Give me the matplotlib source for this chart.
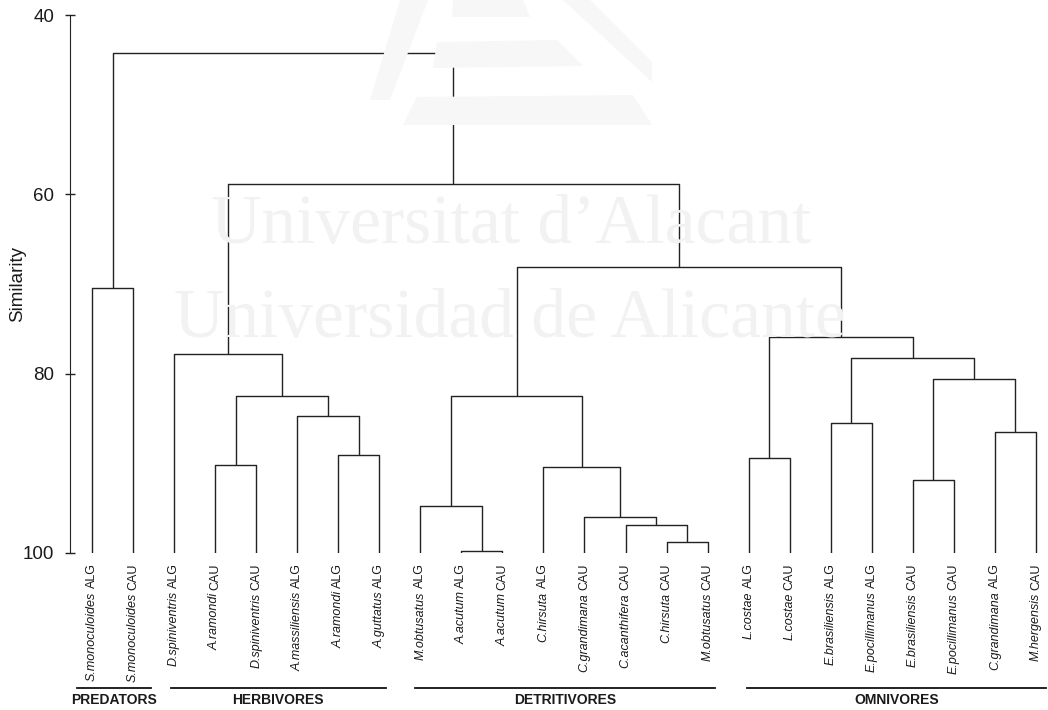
import matplotlib
matplotlib.use("Agg")
from matplotlib import pyplot as plt
from matplotlib import transforms
from matplotlib.patches import Polygon

plt.rcParams["font.family"] = ["Liberation Sans", "DejaVu Sans"]

# leaves, left to right
species = [
    "S.monoculoides", "S.monoculoides", "D.spiniventris", "A.ramondi",
    "D.spiniventris", "A.massiliensis", "A.ramondi", "A.guttatus",
    "M.obtusatus", "A.acutum", "A.acutum", "C.hirsuta",
    "C.grandimana", "C.acanthifera", "C.hirsuta", "M.obtusatus",
    "L.costae", "L.costae", "E.brasiliensis", "E.pocillimanus",
    "E.brasiliensis", "E.pocillimanus", "C.grandimana", "M.hergensis",
]
sites = [
    "ALG", "CAU", "ALG", "CAU", "CAU", "ALG", "ALG", "ALG",
    "ALG", "ALG", "CAU", "ALG", "CAU", "CAU", "CAU", "CAU",
    "ALG", "CAU", "ALG", "ALG", "CAU", "CAU", "ALG", "CAU",
]

# merges: node ids 0-23 are leaves, merge k gets id 24 + k
merge_left = [9, 14, 13, 12, 8, 11, 28, 3, 6, 5, 31, 2, 0,
              20, 16, 22, 18, 37, 40, 38, 30, 35, 36]
merge_right = [10, 15, 25, 26, 24, 27, 29, 4, 7, 32, 33, 34, 1,
               21, 17, 23, 19, 39, 41, 42, 43, 44, 45]
merge_sim = [99.82, 98.82, 96.84, 96.03, 94.73, 90.46, 82.54, 90.19, 89.04,
             84.77, 82.47, 77.76, 70.46, 91.83, 89.41, 86.51, 85.51, 80.54,
             78.20, 75.86, 68.05, 58.87, 44.27]

groups = ["PREDATORS", "HERBIVORES", "DETRITIVORES", "OMNIVORES"]
group_first = [0, 2, 8, 16]
group_last = [1, 7, 15, 23]

yticks = [40, 60, 80, 100]

W, H = 1048, 710
fig = plt.figure(figsize=(W / 100, H / 100), dpi=100)


def fx(px):
    return px / W


def fy(py):
    return 1 - py / H


# faint watermark in the background
logo = [
    [(370, 100), (400, 0), (428, 0), (390, 100)],
    [(453, 0), (523, 0), (530, 17), (452, 17)],
    [(437, 42), (557, 40), (583, 66), (433, 68)],
    [(563, 0), (590, 0), (652, 62), (652, 82)],
    [(417, 97), (633, 95), (652, 125), (403, 125)],
]
for poly in logo:
    fig.patches.append(Polygon([(fx(a), fy(b)) for a, b in poly], closed=True,
                               transform=fig.transFigure, facecolor="#f7f7f7",
                               edgecolor="none", zorder=0))
for txt, cx, base in [("Universitat d\u2019Alacant", 511, 243),
                      ("Universidad de Alicante", 510, 337)]:
    fig.text(fx(cx), fy(base), txt, family="Liberation Serif", fontsize=50,
             color="#f2f2f2", ha="center", va="baseline", zorder=0)

# axes: spine at x=70px, 40 at y=15px, 100 at y=553px; leaf 0 at 92px, step 41.04px
ax = fig.add_axes([fx(70), fy(553), fx(W) - fx(70), fy(15) - fy(553)])
ax.set_facecolor("none")
step = 41.04
ax.set_xlim((70 - 92) / step, (W - 92) / step)
ax.set_ylim(100, 40)

n = len(species)
node_x = list(range(n))
node_h = [100.0] * n
line_kw = dict(color="#222222", lw=1.0, solid_capstyle="butt")
for a, b, h in zip(merge_left, merge_right, merge_sim):
    xa, xb = node_x[a], node_x[b]
    ax.plot([xa, xa, xb, xb], [node_h[a], h, h, node_h[b]], **line_kw)
    node_x.append((xa + xb) / 2)
    node_h.append(h)

for spine in ["top", "right", "bottom"]:
    ax.spines[spine].set_visible(False)
ax.spines["left"].set_color("#222222")
ax.set_xticks([])
ax.set_yticks(yticks)
ax.tick_params(axis="y", direction="inout", length=7, width=1, color="#222222",
               labelsize=13.5, pad=8, labelcolor="#1a1a1a")
ax.set_ylabel("Similarity", fontsize=13.5, color="#1a1a1a")
ax.yaxis.set_label_coords((26 - 70) / (W - 70), 0.5)

# leaf labels: italic species + upright site code, reading upwards
trans = ax.get_xaxis_transform()
label_y = -10 / 538
fig.canvas.draw()
renderer = fig.canvas.get_renderer()
for i, (sp, st) in enumerate(zip(species, sites)):
    t = ax.text(i, label_y, st, rotation=90, ha="center", va="top",
                fontsize=9, transform=trans, color="#1a1a1a")
    shift = t.get_window_extent(renderer).height + 3.5
    ax.text(i, label_y, sp, rotation=90, ha="center", va="top", fontsize=9,
            style="italic", color="#1a1a1a",
            transform=transforms.offset_copy(trans, fig, y=-shift, units="dots"))

# trophic groups under the leaves
pad_left = [0.37, 0.08, 0.13, 0.03]
pad_right = [0.43, 0.16, 0.18, 0.25]
for g, a, b, pl, pr in zip(groups, group_first, group_last, pad_left, pad_right):
    ax.plot([a - pl, b + pr], [-0.2504, -0.2504], color="#111111", lw=1.3,
            transform=trans, clip_on=False)
    ax.text((a - pl + b + pr) / 2, -0.273, g, ha="center", va="center",
            fontsize=10, fontweight="bold", transform=trans, color="#1a1a1a")

fig.savefig("out.png", dpi=100)
